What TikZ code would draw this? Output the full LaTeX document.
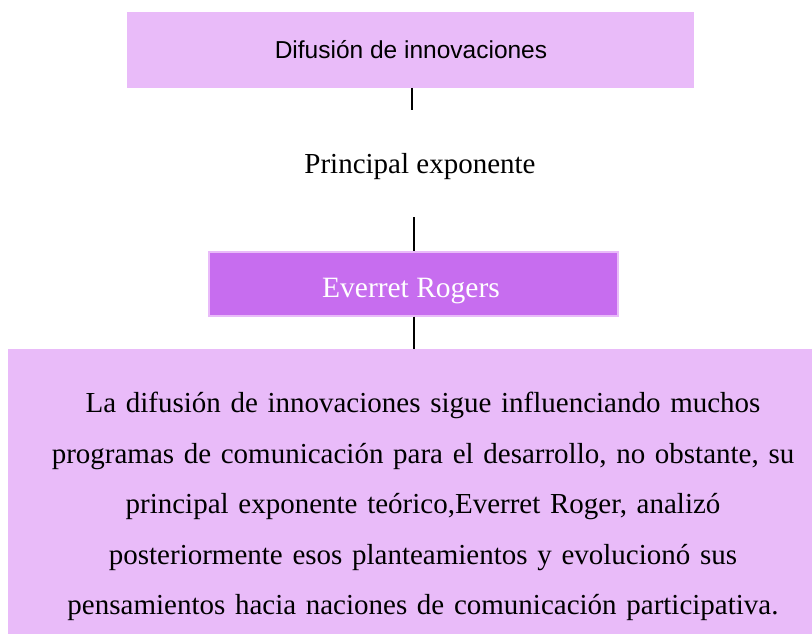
\documentclass[tikz,border=0pt]{standalone}
\usepackage{fontspec}
\setmainfont{Liberation Serif}
\newfontfamily\arialfont{Liberation Sans}
\definecolor{lightlav}{HTML}{E9BBF9}
\definecolor{midpurp}{HTML}{C76DEF}
\begin{document}
\begin{tikzpicture}[x=1pt,y=-1pt,
  lightbox/.style={fill=lightlav,draw=none,inner sep=0pt},
  darkbox/.style={fill=midpurp,draw=lightlav,line width=1.5pt,inner sep=0pt},
  conn/.style={draw=black,line width=1.3pt}]
\useasboundingbox (0,0) rectangle (812,634);
\node[lightbox,minimum width=567pt,minimum height=76pt,anchor=north west] (top) at (127,12) {};
\node[font=\arialfont\fontsize{24.5}{28}\selectfont] (toptext) at (411,50) {Difusión de innovaciones};
\coordinate (c1a) at (412,88);
\coordinate (c1b) at (412,110);
\draw[conn] (c1a) -- (c1b);
\node[font=\fontsize{29}{32}\selectfont] (pe) at (420,167) {Principal exponente};
\coordinate (c2a) at (414,217);
\draw[conn] (c2a) -- (c2a |- 0,251);
\node[darkbox,minimum width=409pt,minimum height=64pt,anchor=north west] (mid) at (208,251) {};
\node[font=\fontsize{29.5}{32}\selectfont,text=white] (midtext) at (411,291) {Everret Rogers};
\node[lightbox,minimum width=804pt,minimum height=285pt,anchor=north west] (bot) at (8,349) {};
\draw[conn] (mid.south -| c2a) -- (bot.north -| c2a);
\node[font=\fontsize{29}{50.5}\selectfont,align=center,text width=800pt,anchor=north] (bottext) at (423,389) {La difusión de innovaciones sigue influenciando muchos\\
programas de comunicación para el desarrollo, no obstante, su\\
principal exponente teórico,Everret Roger, analizó\\
posteriormente esos planteamientos y evolucionó sus\\
pensamientos hacia naciones de comunicación participativa.};
\end{tikzpicture}
\end{document}
